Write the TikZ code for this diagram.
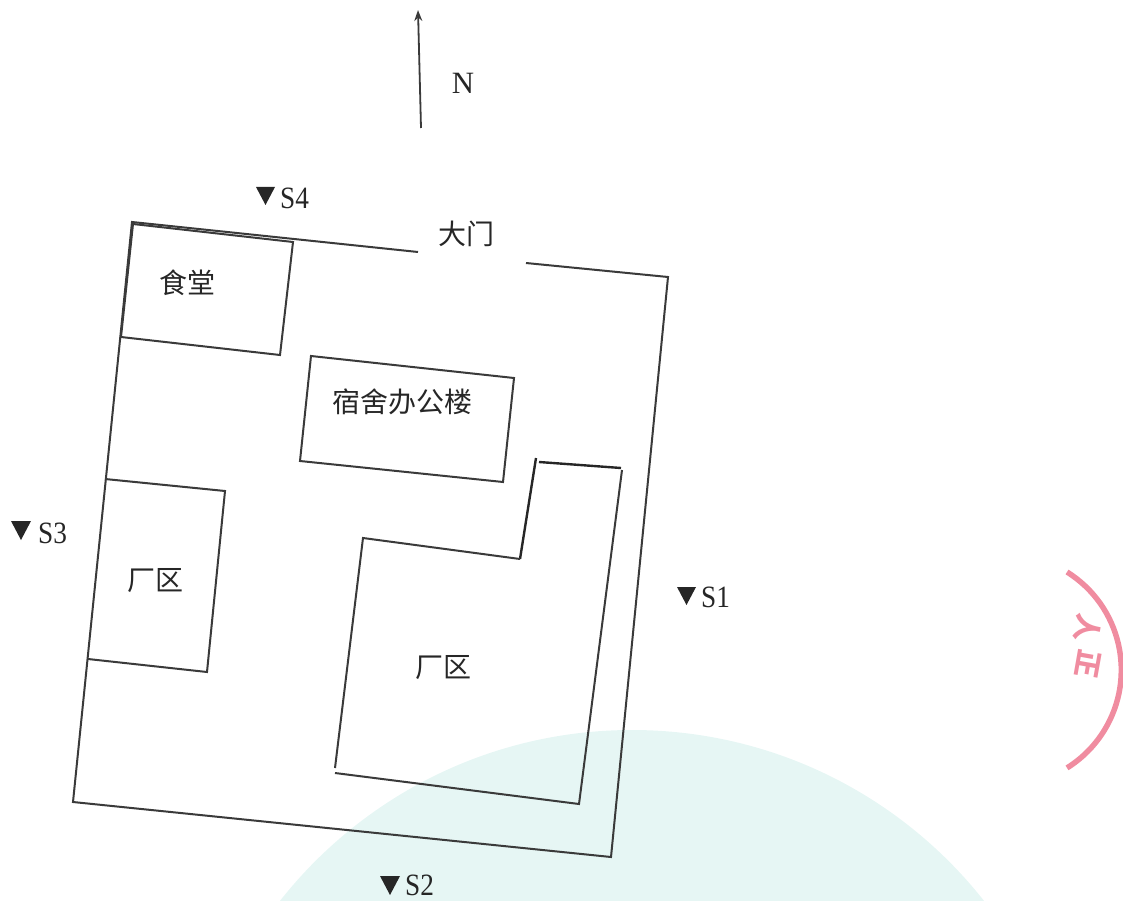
\documentclass[tikz,border=0pt]{standalone}
\usepackage{fontspec}
\usetikzlibrary{arrows.meta}
\setmainfont{Liberation Serif}
\newfontfamily\cjk{Noto Sans CJK SC}[Scale=1]
\definecolor{wall}{HTML}{3A3A3A}
\definecolor{tealbg}{HTML}{E6F6F4}
\definecolor{stamp}{HTML}{F08CA0}
\tikzset{
  wallline/.style={draw=wall,line width=2pt,line join=miter},
  darkline/.style={draw=black!85,line width=2.4pt},
  cjklabel/.style={font=\cjk\fontsize{28}{28}\selectfont,text=black!85,inner sep=0pt},
  latlabel/.style={font=\fontsize{31}{31}\selectfont,text=black!85,inner sep=0pt,xscale=0.88},
  marker/.style={fill=black!85,draw=none},
  stampline/.style={draw=stamp,line width=5.5pt},
  stamptext/.style={font=\cjk\bfseries\fontsize{28}{28}\selectfont,text=stamp,inner sep=0pt},
}
\begin{document}
\begin{tikzpicture}[x=1pt,y=-1pt]
\useasboundingbox (0,0) rectangle (1123,901);
\begin{scope}
\clip (0,0) rectangle (1123,901);
\fill[tealbg] (632,1178) circle [radius=448];
\draw[stampline] (1067,572) arc [start angle=-58,end angle=58,radius=115.5];
\node[stamptext,rotate=-100] (st1) at (1088,628) {人};
\node[stamptext,rotate=-100] (st2) at (1088,664) {正};
\end{scope}
% north arrow
\coordinate (nb) at (421,128);
\coordinate (nt) at (418,10);
\draw[draw=wall,line width=1.8pt,-{Stealth[length=11pt,width=8pt]}] (nb) -- (nt);
\node[latlabel,xscale=1.13] (n) at (463,83) {N};
% outer wall
\coordinate (gl) at (418,252);
\coordinate (o1) at (132,222);
\coordinate (o2) at (73,802);
\coordinate (o3) at (611,857);
\coordinate (o4) at (668,277);
\coordinate (gr) at (526,263);
\draw[wallline] (gl) -- (o1) -- (o2) -- (o3) -- (o4) -- (gr);
\node[cjklabel] (gate) at (466,234) {大门};
% canteen
\coordinate (c1) at (133,224);
\coordinate (c2) at (293,242);
\coordinate (c3) at (280,355);
\coordinate (c4) at (121,337);
\draw[wallline] (c1) -- (c2) -- (c3) -- (c4) -- cycle;
\node[cjklabel] (canteen) at (187,283) {食堂};
% dormitory office
\coordinate (d1) at (311,356);
\coordinate (d2) at (514,378);
\coordinate (d3) at (503,482);
\coordinate (d4) at (300,461);
\draw[wallline] (d1) -- (d2) -- (d3) -- (d4) -- cycle;
\node[cjklabel] (dorm) at (402,402) {宿舍办公楼};
% left plant
\coordinate (l1) at (105,479);
\coordinate (l2) at (225,491);
\coordinate (l3) at (207,672);
\coordinate (l4) at (88,659);
\draw[wallline] (l1) -- (l2) -- (l3) -- (l4);
\node[cjklabel] (plantl) at (155,581) {厂区};
% right plant
\coordinate (p1) at (536,458);
\coordinate (p2) at (520,559);
\coordinate (p3) at (363,538);
\coordinate (p4) at (335,768);
\coordinate (p5) at (335,773);
\coordinate (p6) at (579,804);
\coordinate (p7) at (622,470);
\coordinate (p8) at (539,462);
\coordinate (p9) at (621,468);
\draw[darkline] (p1) -- (p2);
\draw[wallline] (p2) -- (p3) -- (p4);
\draw[wallline] (p5) -- (p6) -- (p7);
\draw[darkline] (p8) -- (p9);
\node[cjklabel] (plantr) at (443,668) {厂区};
% monitoring points
\fill[marker] (256,187) -- (275,187) -- (265.5,205) -- cycle;
\node[latlabel,anchor=west] (s4) at (280,198) {S4};
\fill[marker] (11,521) -- (31,521) -- (21,540) -- cycle;
\node[latlabel,anchor=west] (s3) at (38,533) {S3};
\fill[marker] (677,587) -- (696,587) -- (686.5,605) -- cycle;
\node[latlabel,anchor=west] (s1) at (701,597) {S1};
\fill[marker] (380,876) -- (400,876) -- (390,895) -- cycle;
\node[latlabel,anchor=west] (s2) at (405,885) {S2};
\end{tikzpicture}
\end{document}
